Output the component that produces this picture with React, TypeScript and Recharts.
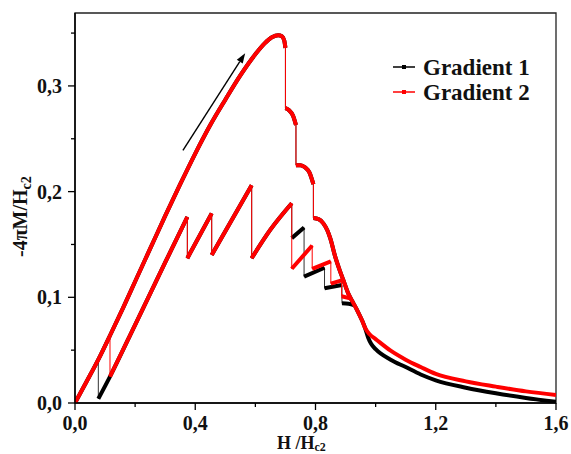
import { LineChart, Line, XAxis, YAxis, ReferenceLine, ReferenceArea } from "recharts";

type Pt = [number, number];

const FONT = '"Liberation Serif", "Times New Roman", serif';
const BLACK = "#000000";
const RED = "#ff0000";

const X_TICKS = [0, 0.2, 0.4, 0.6, 0.8, 1.0, 1.2, 1.4, 1.6];
const X_LABELED = [0, 0.4, 0.8, 1.2, 1.6];
const Y_TICKS = [0, 0.05, 0.1, 0.15, 0.2, 0.25, 0.3, 0.35];
const Y_LABELED = [0, 0.1, 0.2, 0.3];
const Y_MAX = 0.369;

// rising branch up to the first big flux jump (both samples)
const rise: Pt[] = [
  [0, 0], [0.04, 0.021], [0.08, 0.0425], [0.12, 0.066], [0.16, 0.09], [0.2, 0.115],
  [0.25, 0.146], [0.3, 0.177], [0.35, 0.207], [0.4, 0.236], [0.45, 0.263], [0.5, 0.287],
  [0.55, 0.31], [0.6, 0.33], [0.63, 0.34], [0.655, 0.346], [0.676, 0.348], [0.688, 0.347],
  [0.696, 0.343], [0.7, 0.336],
];

// steps after the peak and the fall towards Hc2
const steps: Pt[] = [
  [0.7, 0.279], [0.712, 0.277], [0.725, 0.272], [0.735, 0.263], [0.735, 0.225], [0.75, 0.225],
  [0.765, 0.223], [0.78, 0.218], [0.793, 0.207], [0.793, 0.175], [0.81, 0.174], [0.826, 0.17],
  [0.84, 0.163], [0.85, 0.155], [0.865, 0.139], [0.88, 0.126], [0.893, 0.116], [0.91, 0.103],
  [0.925, 0.095], [0.94, 0.087], [0.955, 0.078], [0.965, 0.071],
];

const tail1: Pt[] = [
  [0.975, 0.062], [0.985, 0.056], [1.0, 0.051], [1.05, 0.041], [1.1, 0.034], [1.15, 0.027],
  [1.2, 0.0215], [1.3, 0.0145], [1.4, 0.0092], [1.5, 0.0048], [1.6, 0.0012],
];
const tail2: Pt[] = [
  [0.98, 0.065], [1.0, 0.0605], [1.05, 0.0495], [1.1, 0.041], [1.15, 0.034], [1.2, 0.0275],
  [1.3, 0.0205], [1.4, 0.0155], [1.5, 0.011], [1.6, 0.0076],
];

// saw-tooth branch shared by both
const teeth: Pt[] = [
  [0.2, 0.074], [0.3, 0.133], [0.3737, 0.176], [0.3737, 0.137], [0.4547, 0.1794], [0.4547, 0.14],
  [0.5877, 0.206], [0.5877, 0.137], [0.65, 0.164], [0.721, 0.189],
];

const lower1: Pt[] = [
  [0.0776, 0.041], [0.0776, 0.004], [0.1164, 0.025], ...teeth,
  [0.721, 0.156], [0.762, 0.166], [0.762, 0.1195], [0.83, 0.128], [0.83, 0.1085],
  [0.888, 0.1116], [0.888, 0.0943], [0.91, 0.094], [0.93, 0.0925],
];
const lower2: Pt[] = [
  [0.1164, 0.064], [0.1164, 0.025], ...teeth,
  [0.721, 0.127], [0.789, 0.149], [0.789, 0.127], [0.851, 0.134], [0.851, 0.113],
  [0.887, 0.116], [0.887, 0.101], [0.915, 0.099],
];

const ARROW: Pt[] = [[0.359, 0.239], [0.566, 0.331]];

const traces1 = [[...rise, ...steps, ...tail1], lower1];
const traces2 = [[...rise, ...steps, ...tail2], lower2];

// full trace, jumps drawn thin
function thin(traces: Pt[][]) {
  const rows: { x: number; y: number | null }[] = [];
  traces.forEach((t, i) => {
    if (i) rows.push({ x: t[0][0], y: null });
    t.forEach(([x, y]) => rows.push({ x, y }));
  });
  return rows;
}

// dense-marker look: break the line at vertical jumps
function thick(traces: Pt[][]) {
  const rows: { x: number; y: number | null }[] = [];
  traces.forEach((t) => {
    t.forEach(([x, y], j) => {
      if (j > 0 && x === t[j - 1][0]) rows.push({ x, y: null });
      rows.push({ x, y });
    });
    rows.push({ x: t[t.length - 1][0], y: null });
  });
  return rows;
}

const fmt = (v: number) => v.toFixed(1).replace(".", ",");
const has = (list: number[], v: number) => list.some((t) => Math.abs(t - v) < 1e-6);

function YTick({ x, y, payload }: any) {
  const major = has(Y_LABELED, payload.value);
  return (
    <g>
      <line x1={x} y1={y} x2={x - (major ? 7 : 4)} y2={y} stroke="#000" strokeWidth={1.3} />
      {major && (
        <text x={x - 13} y={y + 7} textAnchor="end" fontFamily={FONT} fontWeight="bold" fontSize={20} fill="#111">
          {fmt(payload.value)}
        </text>
      )}
    </g>
  );
}

function XTick({ x, y, payload }: any) {
  const major = has(X_LABELED, payload.value);
  return (
    <g>
      <line x1={x} y1={y} x2={x} y2={y + (major ? 7 : 4)} stroke="#000" strokeWidth={1.3} />
      {major && (
        <text x={x} y={y + 27} textAnchor="middle" fontFamily={FONT} fontWeight="bold" fontSize={20} fill="#111">
          {fmt(payload.value)}
        </text>
      )}
    </g>
  );
}

function ArrowShape(p: any) {
  const { x1, y1, x2, y2 } = p;
  const a = Math.atan2(y2 - y1, x2 - x1);
  const L = 10;
  const W = 3.5;
  const bx = x2 - L * Math.cos(a);
  const by = y2 - L * Math.sin(a);
  const px = -Math.sin(a) * W;
  const py = Math.cos(a) * W;
  return (
    <g>
      <line x1={x1} y1={y1} x2={bx} y2={by} stroke="#000" strokeWidth={1.4} />
      <polygon points={`${x2},${y2} ${bx + px},${by + py} ${bx - px},${by - py}`} fill="#000" />
    </g>
  );
}

export default function App() {
  return (
    <div style={{ position: "absolute", left: 0, top: 0, width: 571, height: 454, background: "#fff" }}>
      <LineChart width={571} height={454} margin={{ top: 13, right: 15, bottom: 0, left: 0 }}>
        <XAxis
          dataKey="x"
          type="number"
          domain={[0, 1.6]}
          ticks={X_TICKS}
          interval={0}
          allowDataOverflow
          height={51}
          tickSize={0}
          tickMargin={0}
          tickLine={false}
          axisLine={{ stroke: "#000", strokeWidth: 1.5 }}
          tick={<XTick />}
        />
        <YAxis
          type="number"
          domain={[0, Y_MAX]}
          ticks={Y_TICKS}
          interval={0}
          allowDataOverflow
          width={75}
          tickSize={0}
          tickMargin={0}
          tickLine={false}
          axisLine={{ stroke: "#000", strokeWidth: 1.5 }}
          tick={<YTick />}
        />
        <ReferenceArea x1={0} x2={1.6} y1={0} y2={Y_MAX} fill="none" stroke="#222" strokeWidth={1.3} ifOverflow="visible" />
        <Line data={thin(traces1)} dataKey="y" type="linear" stroke="#333" strokeWidth={1} dot={false} isAnimationActive={false} />
        <Line data={thick(traces1)} dataKey="y" type="monotone" stroke={BLACK} strokeWidth={4} strokeLinejoin="round" dot={false} isAnimationActive={false} />
        <Line data={thin(traces2)} dataKey="y" type="linear" stroke={RED} strokeWidth={1} dot={false} isAnimationActive={false} />
        <Line data={thick(traces2)} dataKey="y" type="monotone" stroke={RED} strokeWidth={4} strokeLinejoin="round" dot={false} isAnimationActive={false} />
        <ReferenceLine
          segment={[
            { x: ARROW[0][0], y: ARROW[0][1] },
            { x: ARROW[1][0], y: ARROW[1][1] },
          ]}
          stroke="#000"
          ifOverflow="visible"
          shape={ArrowShape}
        />
      </LineChart>
      <svg width={571} height={454} style={{ position: "absolute", left: 0, top: 0, pointerEvents: "none" }}>
        <text transform="translate(27, 257) rotate(-90)" fontFamily={FONT} fontWeight="bold" fontSize={20} fill="#111">
          -4πM/H
          <tspan fontSize={14} dy={4}>c2</tspan>
        </text>
        <text x={277} y={449} fontFamily={FONT} fontWeight="bold" fontSize={18} fill="#111">
          H /H
          <tspan fontSize={12} dy={2}>c2</tspan>
        </text>
        <line x1={393} y1={67} x2={415} y2={67} stroke="#000" strokeWidth={1.5} />
        <rect x={402} y={65} width={4} height={4} fill="#000" />
        <text x={423} y={75} fontFamily={FONT} fontWeight="bold" fontSize={23} fill="#111">Gradient 1</text>
        <line x1={393} y1={92} x2={415} y2={92} stroke={RED} strokeWidth={1.5} />
        <rect x={402} y={90} width={4} height={4} fill={RED} />
        <text x={423} y={100} fontFamily={FONT} fontWeight="bold" fontSize={23} fill="#111">Gradient 2</text>
      </svg>
    </div>
  );
}
